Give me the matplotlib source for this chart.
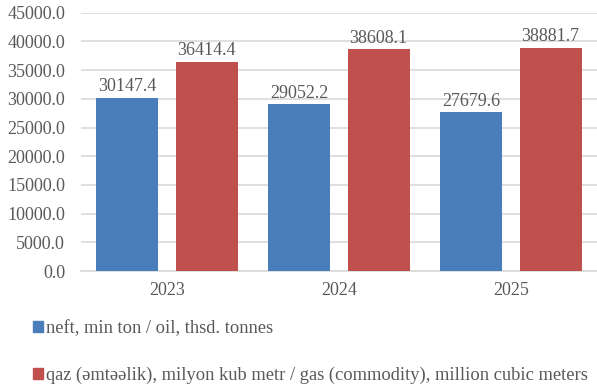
import numpy as np
import matplotlib.pyplot as plt
from matplotlib.patches import Patch

plt.rcParams['font.family'] = ['Liberation Serif', 'DejaVu Serif']

# Hasilat: neft və qaz
years = ['2023', '2024', '2025']
oil = [30147.4, 29052.2, 27679.6]
gas = [36414.4, 38608.1, 38881.7]
series_names = ['neft, min ton / oil, thsd. tonnes',
                'qaz (əmtəəlik), milyon kub metr / gas (commodity), million cubic meters']

blue = '#4A7EBB'
red = '#C0504D'
grey = '#595959'

fig = plt.figure(figsize=(5.97, 3.89), dpi=100)
ax = fig.add_axes([81 / 597, 1 - 271 / 389, 1 - 81 / 597, (271 - 12.7) / 389])

x = np.arange(len(years))
w = 0.36
off = 0.23
b1 = ax.bar(x - off, oil, w, color=blue, zorder=3)
b2 = ax.bar(x + off, gas, w, color=red, zorder=3)

for bars, vals in ((b1, oil), (b2, gas)):
    for rect, v in zip(bars, vals):
        ax.text(rect.get_x() + rect.get_width() / 2, v + 450, f'{v:.1f}',
                ha='center', va='bottom', fontsize=13, color=grey)

ax.set_xlim(-0.5, len(years) - 0.5)
ax.set_ylim(0, 45000)
ax.set_yticks(np.arange(0, 45001, 5000))
ax.set_yticklabels([f'{t:.1f}' for t in np.arange(0, 45001, 5000)])
ax.set_xticks(x)
ax.set_xticklabels(years)
ax.tick_params(axis='both', length=0, labelsize=13, colors=grey)
ax.tick_params(axis='y', pad=11.5)
ax.tick_params(axis='x', pad=8)
ax.yaxis.grid(True, color='#D9D9D9', linewidth=1.2, zorder=0)
for s in ('top', 'right', 'left'):
    ax.spines[s].set_visible(False)
ax.spines['bottom'].set_color('#D9D9D9')
ax.spines['bottom'].set_linewidth(1.2)

handles = [Patch(color=blue), Patch(color=red)]
leg = fig.legend(handles, series_names, loc='upper left',
                 bbox_to_anchor=(33 / 597, 1 - 320 / 389), frameon=False,
                 borderpad=0, borderaxespad=0,
                 fontsize=13.3, handlelength=0.54, handleheight=0.54,
                 handletextpad=0.18, labelspacing=1.6)
for t in leg.get_texts():
    t.set_color(grey)

fig.savefig('out.png', dpi=100)
